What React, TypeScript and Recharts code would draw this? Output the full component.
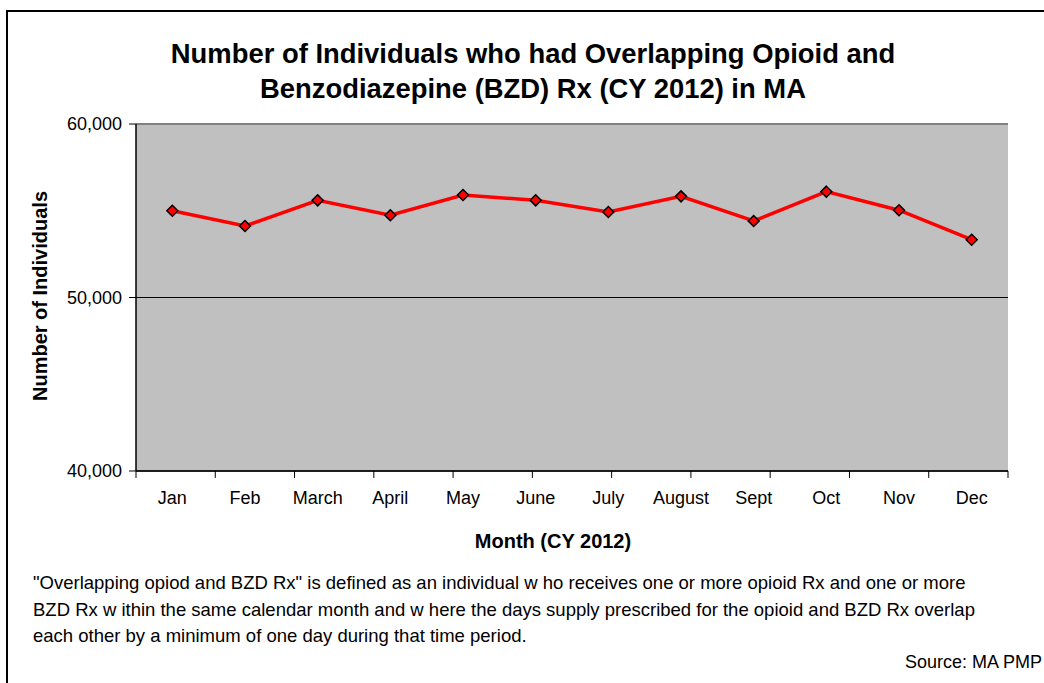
import React from 'react';
import { LineChart, Line, XAxis, YAxis, CartesianGrid, ReferenceLine } from 'recharts';

const months = ['Jan', 'Feb', 'March', 'April', 'May', 'June', 'July', 'August', 'Sept', 'Oct', 'Nov', 'Dec'];
const individuals = [55000, 54120, 55600, 54740, 55910, 55600, 54930, 55830, 54410, 56100, 55030, 53330];
const yTicks = [40000, 50000, 60000];
const boundaryTicks = [0, 1, 2, 3, 4, 5, 6, 7, 8, 9, 10, 11, 12];

const data = months.map((m, i) => ({ month: m, value: individuals[i] }));

const FONT = '"Liberation Sans", Arial, sans-serif';
const Y_MIN = 40000;
const TICK_DEPTH = 400; // tick mark length in value units (~7px)

const Diamond = (props: any) => {
  const { cx, cy } = props;
  if (cx == null || cy == null) return null;
  const r = 5.5;
  return (
    <polygon
      points={`${cx},${cy - r} ${cx + r},${cy} ${cx},${cy + r} ${cx - r},${cy}`}
      fill="#FF0000"
      stroke="#000000"
      strokeWidth={1.5}
    />
  );
};

export default function App() {
  return (
    <div style={{ position: 'absolute', left: 0, top: 0, width: 1044, height: 683, overflow: 'hidden', background: '#fff', fontFamily: FONT, color: '#000' }}>
      <div style={{ position: 'absolute', left: 6, top: 10, width: 1200, height: 900, borderLeft: '2px solid #000', borderTop: '2px solid #000' }} />
      <div style={{ position: 'absolute', left: 0, top: 36, width: 1066, textAlign: 'center', fontWeight: 'bold', fontSize: 27.4, lineHeight: '35px' }}>
        Number of Individuals who had Overlapping Opioid and
        <br />
        Benzodiazepine (BZD) Rx (CY 2012) in MA
      </div>
      <div style={{ position: 'absolute', left: 40, top: 296, width: 0, height: 0 }}>
        <div style={{ position: 'absolute', transform: 'translate(-50%, -50%) rotate(-90deg)', whiteSpace: 'nowrap', fontWeight: 'bold', fontSize: 20, left: 0, top: 0 }}>
          Number of Individuals
        </div>
      </div>
      <div style={{ position: 'absolute', left: 553, top: 541, width: 0, height: 0 }}>
        <div style={{ position: 'absolute', transform: 'translate(-50%, -50%)', whiteSpace: 'nowrap', fontWeight: 'bold', fontSize: 20 }}>
          Month (CY 2012)
        </div>
      </div>
      <div style={{ position: 'absolute', left: 33, top: 570, fontSize: 18.5, lineHeight: '26.5px', whiteSpace: 'nowrap' }}>
        "Overlapping opiod and BZD Rx" is defined as an individual w ho receives one or more opioid Rx and one or more
        <br />
        BZD Rx w ithin the same calendar month and w here the days supply prescribed for the opioid and BZD Rx overlap
        <br />
        each other by a minimum of one day during that time period.
      </div>
      <div style={{ position: 'absolute', right: 2, top: 652, fontSize: 18, whiteSpace: 'nowrap' }}>
        Source: MA PMP
      </div>
      <div style={{ position: 'absolute', left: 0, top: 0 }}>
        <LineChart width={1044} height={683} data={data} margin={{ top: 124, right: 36, bottom: 182, left: 0 }}>
          <CartesianGrid vertical={false} fill="#C0C0C0" stroke="#000" strokeWidth={1} />
          <ReferenceLine y={60000} stroke="#808080" strokeWidth={2} />
          <ReferenceLine x={12} xAxisId="b" stroke="#808080" strokeWidth={2} />
          <ReferenceLine y={40000} stroke="#000" strokeWidth={1.5} />
          {boundaryTicks.map((t) => (
            <ReferenceLine
              key={t}
              xAxisId="b"
              segment={[{ x: t, y: Y_MIN }, { x: t, y: Y_MIN - TICK_DEPTH }]}
              stroke="#000"
              strokeWidth={1}
              ifOverflow="visible"
            />
          ))}
          <XAxis
            xAxisId="b"
            type="number"
            domain={[0, 12]}
            ticks={boundaryTicks}
            hide
            height={0}
            allowDataOverflow
          />
          <XAxis
            xAxisId="m"
            dataKey="month"
            type="category"
            scale="band"
            height={30}
            axisLine={false}
            tickLine={false}
            tickSize={0}
            tickMargin={20}
            interval={0}
            tick={{ fill: '#000', fontSize: 18, fontFamily: FONT }}
          />
          <YAxis
            domain={[40000, 60000]}
            ticks={yTicks}
            width={136}
            tickSize={7}
            tickMargin={7}
            axisLine={{ stroke: '#000', strokeWidth: 1.5 }}
            tickLine={{ stroke: '#000' }}
            tick={{ fill: '#000', fontSize: 18, fontFamily: FONT }}
            tickFormatter={(v: number) => v.toLocaleString('en-US')}
            allowDataOverflow
          />
          <Line
            xAxisId="m"
            dataKey="value"
            stroke="#FF0000"
            strokeWidth={3.5}
            dot={<Diamond />}
            activeDot={false}
            isAnimationActive={false}
          />
        </LineChart>
      </div>
    </div>
  );
}
